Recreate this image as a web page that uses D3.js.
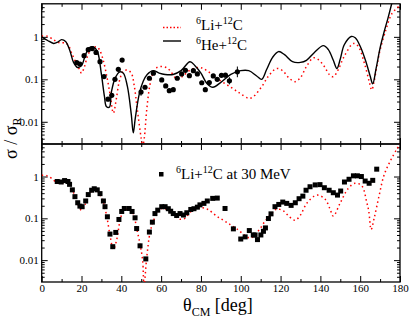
<!DOCTYPE html>
<html>
<head>
<meta charset="utf-8">
<script src="https://cdnjs.cloudflare.com/ajax/libs/d3/7.8.5/d3.min.js"></script>
<style>
body{margin:0;background:#fff;}
text{font-family:"Liberation Serif","Times New Roman",serif;}
</style>
</head>
<body>
<div id="chart"></div>
<script>
// theta (deg), sigma/sigma_R
var heTop = [[0,1.0],[3,0.82],[6,0.70],[8,0.75],[10,0.86],[12,0.78],[14,0.5],[16,0.25],[18,0.19],[20,0.21],[22,0.38],[24,0.56],[26,0.58],[28,0.45],[30,0.13],[31.5,0.04],[32.5,0.023],[34,0.022],[35,0.05],[37,0.11],[39.3,0.15],[41,0.14],[43,0.07],[45,0.015],[46,0.0055],[47,0.012],[49,0.045],[51,0.09],[53,0.13],[56,0.16],[59,0.14],[62,0.13],[66,0.13],[70,0.16],[74.5,0.26],[77,0.21],[80,0.14],[83,0.08],[86,0.065],[90,0.085],[95,0.13],[100,0.16],[104,0.16],[108,0.12],[110.5,0.1],[113,0.17],[116,0.33],[119,0.45],[122,0.38],[126,0.26],[130,0.25],[133,0.28],[137,0.43],[141.5,0.62],[144,0.5],[146.5,0.28],[148.3,0.18],[150,0.3],[152,0.65],[155.5,1.02],[157.5,0.95],[160,0.6],[163,0.25],[165,0.12],[166.3,0.078],[168,0.18],[170,0.55],[172,1.3],[174,2.8],[176,6.5]];

var liTop = [[0,1.05],[3,1.03],[6,0.85],[9,0.72],[12,0.72],[13.5,0.62],[15,0.42],[17,0.26],[19,0.17],[20,0.14],[21.5,0.2],[23,0.35],[25,0.52],[27.5,0.58],[29,0.5],[31,0.27],[33,0.1],[34.5,0.04],[36,0.016],[37.5,0.035],[39,0.09],[41,0.155],[43,0.165],[45,0.14],[46.5,0.07],[48,0.02],[50,0.004],[50.7,0.0026],[51.5,0.004],[52.8,0.02],[54.4,0.075],[56,0.14],[58,0.19],[60.3,0.2],[62.5,0.19],[64.5,0.16],[67,0.11],[68.5,0.1],[71,0.12],[75,0.17],[79.5,0.19],[83,0.16],[88,0.105],[94.6,0.067],[99.6,0.047],[103.8,0.036],[106,0.038],[110.5,0.067],[114,0.12],[118,0.18],[121,0.16],[124,0.11],[127.3,0.088],[130,0.11],[133,0.2],[136.5,0.32],[139,0.29],[142,0.2],[144.5,0.13],[146.5,0.115],[149,0.17],[152,0.35],[156.6,0.7],[159,0.6],[162,0.25],[164.5,0.09],[165.8,0.056],[167,0.09],[168.5,0.22],[170,0.49],[173,1.5],[175.9,3.5],[180,5.5]];

var liBot = [[0,1.07],[2.5,1.05],[5,0.9],[7.5,0.72],[10,0.68],[12.6,0.76],[14.2,0.6],[16,0.41],[18.2,0.215],[20.1,0.154],[21.8,0.215],[23.5,0.36],[26,0.48],[27.6,0.48],[29.3,0.36],[31,0.24],[32.7,0.11],[34.3,0.04],[36,0.018],[37.7,0.031],[39.4,0.09],[41,0.15],[42.7,0.165],[44.3,0.16],[46,0.13],[47.7,0.058],[49.4,0.024],[50.7,0.01],[51.4,0.0025],[52.8,0.012],[54.4,0.045],[56.1,0.085],[57.8,0.13],[59.5,0.167],[62,0.17],[64.5,0.146],[67,0.112],[69.5,0.095],[72,0.1],[74.5,0.14],[77.9,0.17],[80.5,0.18],[83.5,0.163],[87.9,0.113],[93,0.08],[98,0.056],[104.7,0.034],[108.8,0.05],[112.2,0.085],[115.6,0.13],[118.1,0.167],[121.4,0.15],[124.8,0.105],[127.3,0.09],[130,0.12],[133.2,0.23],[138.2,0.36],[142.3,0.29],[144.8,0.17],[146.5,0.113],[149.9,0.23],[154,0.52],[157.4,0.69],[160.8,0.6],[163.3,0.24],[164.3,0.15],[165.5,0.054],[167,0.1],[169.4,0.33],[171.9,1.05],[175,2.3],[178.4,4.5],[180,6]];

var dataTop = [[17.6,0.246],[19.2,0.229],[21.3,0.36],[23.4,0.5],[25.4,0.53],[27.3,0.43],[29.3,0.26],[31.3,0.116],[33.3,0.034],[35.2,0.042],[36.8,0.1],[38.5,0.172],[40.4,0.284],[49.9,0.05],[51.9,0.065],[54.1,0.106],[56.1,0.139],[60.3,0.097],[62.3,0.07],[64.1,0.054],[66.1,0.057],[68.1,0.106],[70.3,0.134],[72.2,0.163],[74.2,0.122],[76.2,0.16],[78.2,0.134],[80.4,0.083],[82.2,0.057],[84.2,0.084],[86.2,0.12],[88.2,0.1],[90.3,0.124],[92.3,0.125],[94.3,0.092],[98.3,0.15]];
// theta, low, high
var errTop = [[49.9,0.041,0.061],[94.3,0.076,0.112],[98.3,0.112,0.2]];

var dataBot = [[7.8,0.76],[9.8,0.74],[11.5,0.8],[13.2,0.76],[14.0,0.65],[15.4,0.48],[16.7,0.33],[18.1,0.236],[19.2,0.196],[20.3,0.19],[22.1,0.26],[23.4,0.37],[25.1,0.47],[26.4,0.51],[27.9,0.48],[29.3,0.39],[31,0.26],[31.8,0.19],[33,0.109],[34.3,0.042],[35.7,0.021],[37.2,0.046],[38.8,0.094],[40.2,0.146],[41.5,0.172],[43.9,0.172],[45.4,0.146],[46.9,0.103],[47.7,0.057],[49.4,0.022],[52.3,0.0107],[54.1,0.047],[55.6,0.081],[56.9,0.13],[58.3,0.157],[60.3,0.19],[62,0.19],[63.6,0.17],[64.8,0.148],[66.1,0.13],[67.8,0.117],[69.5,0.13],[71.2,0.12],[72.9,0.136],[74.9,0.163],[76.5,0.17],[78.2,0.185],[79.5,0.21],[81.5,0.228],[83.2,0.26],[85.9,0.3],[88.2,0.305],[92.1,0.172],[96.3,0.056],[100,0.032],[102.2,0.036],[104.3,0.051],[106.3,0.04],[107.2,0.04],[108.4,0.031],[110.1,0.04],[111.4,0.049],[112.4,0.059],[113.9,0.099],[115.2,0.128],[117.2,0.19],[119.1,0.215],[121.1,0.245],[123.1,0.228],[125.3,0.204],[127.4,0.236],[129.3,0.295],[131.2,0.34],[132.8,0.47],[134.8,0.57],[137.4,0.63],[139.8,0.64],[142,0.54],[144.4,0.47],[146.5,0.41],[148.6,0.36],[150.2,0.45],[152.1,0.74],[154.4,0.86],[156.6,1.04],[158.6,1.04],[160.6,1.0],[162.5,0.78],[164.5,0.69],[166.3,0.81],[168.3,1.5]];

var xMajor = [0,20,40,60,80,100,120,140,160,180];
var xMinor = [10,30,50,70,90,110,130,150,170];
var yMajor = [0.01,0.1,1];
var yLabels = ["0.01","0.1","1"];

var W = 415, H = 321;
var L = 41.7, R = 400;
var panels = [{top:3.8, bot:144}, {top:144, bot:282}];
var serif = '"Liberation Serif","Times New Roman",serif';

var svg = d3.select("#chart").append("svg").attr("width",W).attr("height",H);

var x = d3.scaleLinear().domain([0,180]).range([L,R]);

// minor log ticks 2..9 per decade
var yMinor = [];
[0.001,0.01,0.1,1].forEach(function(d){
  for(var m=2;m<=9;m++){ yMinor.push(d*m); }
});

function drawPanel(i, showX){
  var p = panels[i];
  var y = d3.scaleLog().domain([0.003,6]).range([p.bot,p.top]);
  var minorIn = yMinor.filter(function(v){ return v>0.003 && v<6; });

  svg.append("clipPath").attr("id","clip"+i)
    .append("rect").attr("x",L).attr("y",p.top).attr("width",R-L).attr("height",p.bot-p.top);

  function clean(g){
    g.attr("font-family",serif);
    g.select(".domain").remove();
    g.selectAll(".tick line").attr("stroke","#000");
    g.selectAll(".tick text").attr("fill","#000")
      .style("font-family",serif).style("font-size","11px");
  }

  svg.append("g").attr("transform","translate(0,"+p.bot+")")
    .call(d3.axisBottom(x).tickValues(xMajor).tickSize(-6).tickPadding(2.5)
      .tickFormat(function(d){ return showX ? d : ""; }))
    .call(clean);
  svg.append("g").attr("transform","translate(0,"+p.bot+")")
    .call(d3.axisBottom(x).tickValues(xMinor).tickSize(-3).tickFormat(""))
    .call(clean);
  svg.append("g").attr("transform","translate(0,"+p.top+")")
    .call(d3.axisTop(x).tickValues(xMajor).tickSize(-6).tickFormat(""))
    .call(clean);
  svg.append("g").attr("transform","translate(0,"+p.top+")")
    .call(d3.axisTop(x).tickValues(xMinor).tickSize(-3).tickFormat(""))
    .call(clean);

  svg.append("g").attr("transform","translate("+L+",0)")
    .call(d3.axisLeft(y).tickValues(yMajor).tickSize(-6).tickPadding(3)
      .tickFormat(function(d,k){ return yLabels[k]; }))
    .call(clean);
  svg.append("g").attr("transform","translate("+L+",0)")
    .call(d3.axisLeft(y).tickValues(minorIn).tickSize(-3).tickFormat(""))
    .call(clean);
  svg.append("g").attr("transform","translate("+R+",0)")
    .call(d3.axisRight(y).tickValues(yMajor).tickSize(-6).tickFormat(""))
    .call(clean);
  svg.append("g").attr("transform","translate("+R+",0)")
    .call(d3.axisRight(y).tickValues(minorIn).tickSize(-3).tickFormat(""))
    .call(clean);

  svg.append("rect").attr("x",L).attr("y",p.top).attr("width",R-L).attr("height",p.bot-p.top)
    .attr("fill","none").attr("stroke","#000").attr("stroke-width",1.3);

  var line = d3.line()
    .x(function(d){ return x(d[0]); })
    .y(function(d){ return y(d[1]); })
    .curve(d3.curveCatmullRom.alpha(0.5));

  var plot = svg.append("g").attr("clip-path","url(#clip"+i+")");
  return {y:y, plot:plot, line:line};
}

var panTop = drawPanel(0,false);
var panBot = drawPanel(1,true);

// top panel curves
panTop.plot.append("path").datum(liTop).attr("d",panTop.line)
  .attr("fill","none").attr("stroke","#ff0000").attr("stroke-width",1.5)
  .attr("stroke-dasharray","1.5,3");
panTop.plot.append("path").datum(heTop).attr("d",panTop.line)
  .attr("fill","none").attr("stroke","#000").attr("stroke-width",1.4);

panTop.plot.selectAll(".err").data(errTop).enter().append("line")
  .attr("x1",function(d){ return x(d[0]); }).attr("x2",function(d){ return x(d[0]); })
  .attr("y1",function(d){ return panTop.y(d[1]); }).attr("y2",function(d){ return panTop.y(d[2]); })
  .attr("stroke","#000").attr("stroke-width",1);
panTop.plot.selectAll(".pt").data(dataTop).enter().append("circle")
  .attr("cx",function(d){ return x(d[0]); })
  .attr("cy",function(d){ return panTop.y(d[1]); })
  .attr("r",2.6).attr("fill","#000");

// bottom panel
panBot.plot.append("path").datum(liBot).attr("d",panBot.line)
  .attr("fill","none").attr("stroke","#ff0000").attr("stroke-width",1.5)
  .attr("stroke-dasharray","1.5,3");
panBot.plot.selectAll(".sq").data(dataBot).enter().append("rect")
  .attr("x",function(d){ return x(d[0])-2.5; })
  .attr("y",function(d){ return panBot.y(d[1])-2.5; })
  .attr("width",5).attr("height",5).attr("fill","#000");

// legends
function reaction(t, xp, yp, extra){
  var tx = svg.append("text").attr("x",xp).attr("y",yp).style("font-size","15px").attr("fill","#000");
  tx.append("tspan").text("6").style("font-size","10px").attr("dy",-6);
  tx.append("tspan").text(t+"+").attr("dy",6);
  tx.append("tspan").text("12").style("font-size","10px").attr("dy",-6);
  tx.append("tspan").text("C"+(extra||"")).attr("dy",6);
}
svg.append("line").attr("x1",163).attr("x2",181).attr("y1",27.5).attr("y2",27.5)
  .attr("stroke","#ff0000").attr("stroke-width",1.5).attr("stroke-dasharray","1.5,2");
reaction("Li",196,30);
svg.append("line").attr("x1",163).attr("x2",181).attr("y1",41).attr("y2",41)
  .attr("stroke","#000").attr("stroke-width",1.4);
reaction("He",196,49.5);

svg.append("rect").attr("x",159).attr("y",172).attr("width",4.5).attr("height",4.5).attr("fill","#000");
reaction("Li",176,178.5," at 30 MeV");

// axis titles
var xt = svg.append("text").attr("x",183).attr("y",310.5).style("font-size","18px").attr("fill","#000");
xt.append("tspan").text("\u03b8");
xt.append("tspan").text("CM").style("font-size","12px").attr("dy",5);
xt.append("tspan").text(" [deg]").attr("dy",-5);

var yt = svg.append("text").attr("transform","translate(17,159) rotate(-90)")
  .style("font-size","18px").attr("fill","#000");
yt.append("tspan").text("\u03c3 / \u03c3");
yt.append("tspan").text("R").style("font-size","12px").attr("dy",4);
</script>
</body>
</html>
